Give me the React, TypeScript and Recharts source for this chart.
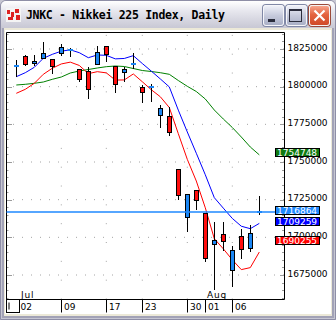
import React from 'react';
import { ComposedChart, Bar, Line, XAxis, YAxis, ReferenceLine } from 'recharts';

const dates = ['07/02','07/03','07/04','07/05','07/06','07/09','07/10','07/11','07/12','07/13','07/17','07/18','07/19','07/20','07/23','07/24','07/25','07/26','07/27','07/30','07/31','08/01','08/02','08/03','08/06','08/07','08/08','08/09'];
const opens = [1813580,1820155,1815509,1818828,1818164,1822146,1823938,1811527,1810399,1815509,1826991,1813717,1809536,1814912,1799580,1799647,1780731,1780532,1745157,1713034,1731219,1716352,1695379,1702215,1678322,1700888,1692725,1716864];
const highs = [1817700,1821018,1821018,1829447,1818164,1828119,1825465,1811527,1812854,1827190,1826991,1813717,1812854,1822146,1801107,1801771,1787833,1786307,1745157,1728564,1731219,1716352,1710379,1710379,1694450,1705335,1708189,1727436];
const lows = [1806220,1813916,1813916,1818828,1808208,1820553,1819889,1802899,1791616,1814845,1816571,1795997,1803297,1811527,1788961,1790023,1772767,1767458,1724781,1703742,1718144,1683831,1665048,1691132,1667239,1685623,1690468,1714826];
const closes = [1813920,1814845,1817036,1822146,1813253,1826128,1824336,1804890,1798253,1823208,1821482,1801571,1811726,1815244,1796262,1799979,1785643,1769714,1727635,1728564,1724317,1686751,1698233,1697769,1691596,1692061,1702680,1716864];
const maHigh = [1806616,1809270,1812854,1818828,1821469,1823553,1824442,1822544,1819226,1821031,1820805,1818456,1818721,1820580,1815363,1810319,1805142,1799832,1784435,1769926,1755816,1741520,1726334,1719379,1712556,1707379,1705746,1709259];
const maLow = [1795598,1798253,1802235,1808208,1812217,1815084,1816279,1814075,1808633,1809961,1809164,1804385,1804465,1808447,1803270,1797961,1793315,1786147,1768798,1751754,1737378,1719591,1699109,1692379,1685079,1678575,1679902,1690255];
const ma25 = [1801107,1801571,1802235,1803098,1804890,1806416,1809071,1810399,1811394,1812390,1813253,1813717,1813385,1812058,1810730,1810067,1809270,1808208,1804093,1800244,1796793,1791815,1784514,1778541,1772900,1766594,1759957,1754748];

const yMajorTicks = [1675000, 1700000, 1725000, 1750000, 1775000, 1800000, 1825000];
const yMinorTicks = Array.from({ length: 36 }, (_, k) => 1660000 + 5000 * k);
const yDomain = [1658743, 1835951];

const dateTicks = ['07/02','07/09','07/17','07/23','07/30','08/01','08/06'];
const dateTickLabels = ['02','09','17','23','30','01','06'];
const monthTicks = ['07/02', '08/01'];
const monthLabels = ['Jul', 'Aug'];
const weekGrid = ['07/09','07/17','07/23','07/30','08/06'];

const lastPrice = 1716864;
const tagValues = [1754748, 1716864, 1709259, 1690255];
const tagColors = ['#0f7a10', '#1e88ff', '#0000ff', '#ff0000'];
const tagNudge = [-2, -1.4, -1.7, -11.5];

const rows = dates.map((d, i) => ({
  d, o: opens[i], h: highs[i], l: lows[i], c: closes[i],
  mh: maHigh[i], ml: maLow[i], m25: ma25[i],
}));

const UP = '#1a86f4';
const DOWN = '#ff0d0d';
const FONT = 'DejaVu Sans';

function Candle(props: any) {
  const { x, y, width, height, payload } = props;
  if (x == null || payload == null) return null;
  const top = Math.min(y, y + height);
  const bot = Math.max(y, y + height);
  const { o, h, l, c } = payload;
  const span = h - l || 1;
  const py = (v: number) => top + ((h - v) / span) * (bot - top);
  const cx = Math.floor(x + width / 2) + 0.5;
  const yo = py(o), yc = py(c);
  const up = c >= o;
  const bt = Math.min(yo, yc), bb = Math.max(yo, yc);
  const fill = up ? UP : DOWN;
  return (
    <g>
      <line x1={cx} x2={cx} y1={Math.round(top)} y2={Math.round(bot)} stroke="#000" strokeWidth={1} />
      {bb - bt < 2 ? (
        <rect x={cx - 2.5} y={Math.round(yc) - 1} width={5} height={2} fill={fill} />
      ) : (
        <rect x={cx - 2} y={Math.round(bt) + 0.5} width={4} height={Math.max(1, Math.round(bb - bt))} fill={fill} stroke="#000" strokeWidth={1} />
      )}
    </g>
  );
}

const PriceTick = ({ x, y, payload }: any) => (
  <text x={x + 3} y={y + 1.6} fontSize={9} fontFamily={FONT} fill="#000">{payload.value}</text>
);

const SideTick = ({ x, y, payload, dir, maj, min }: any) => {
  const major = payload.value % 25000 === 0;
  const len = major ? maj : min;
  const yy = Math.round(y) + 0.5;
  return <line x1={x + dir * 0.5} x2={x + dir * (len + 0.5)} y1={yy} y2={yy} stroke="#9c9c9c" strokeWidth={1} />;
};

const TagTick = ({ x, y, payload }: any) => {
  const k = tagValues.indexOf(payload.value);
  if (k < 0) return null;
  const cy = y + tagNudge[k];
  const ry = Math.round(cy - 4.5) + 0.5;
  return (
    <g>
      <rect x={x + 1} y={ry} width={44} height={8} fill={tagColors[k]} stroke="#000" strokeWidth={1} />
      <text x={x + 2.5} y={ry + 7.6} fontSize={9} fontFamily={FONT} fill="#fff">{payload.value}</text>
    </g>
  );
};

const DateTick = ({ x, y, payload }: any) => {
  const i = dateTicks.indexOf(payload.value);
  if (i < 0) return null;
  const first = i === 0;
  const lx = first ? Math.round(x) + 3.5 : Math.round(x) + 0.5;
  const m = monthTicks.indexOf(payload.value);
  return (
    <g>
      {first && <rect x={lx - 13} y={y} width={13} height={13} fill="#fff" stroke="#000" strokeWidth={1} />}
      {first && <line x1={lx - 10.5} x2={lx - 10.5} y1={y + 3} y2={y + 10} stroke="#000" strokeWidth={1} />}
      {!first && <line x1={lx} x2={lx} y1={y} y2={y + 13} stroke="#000" strokeWidth={1} />}
      <text x={lx + (first ? 1 : 2.5)} y={y + 10} fontSize={9} fontFamily={FONT} fill="#000">{dateTickLabels[i]}</text>
      {m >= 0 && (
        <text x={lx + 1.5} y={y - 2} fontSize={9} fontFamily={FONT} fill="#000" letterSpacing={0.8}>{monthLabels[m]}</text>
      )}
    </g>
  );
};

const Btn = ({ left, kind }: { left: number; kind: string }) => {
  const close = kind === 'close';
  return (
    <div style={{
      position: 'absolute', left, top: 5, width: 21, height: 21, boxSizing: 'border-box',
      borderRadius: 3, border: close ? '1px solid #f4f4f4' : '1px solid #f6f6fa',
      boxShadow: close ? '0 0 0 1px #9a4a3a' : '0 0 0 1px #8088a6',
      background: close
        ? 'linear-gradient(#f6a48c, #e46440 45%, #d04a28)'
        : 'linear-gradient(#eef0f8, #c6cadc 50%, #a9afc6)',
    }}>
      {kind === 'min' && <div style={{ position: 'absolute', left: 4, top: 13, width: 7, height: 3, background: '#2a2c3c' }} />}
      {kind === 'max' && <div style={{ position: 'absolute', left: 2, top: 3, width: 13, height: 13, boxSizing: 'border-box', border: '1px solid #2a2c3c', borderTop: '2px solid #2a2c3c' }} />}
      {close && (
        <svg width={19} height={19} style={{ position: 'absolute', left: 0, top: 0 }}>
          <line x1={4.5} y1={4.5} x2={14.5} y2={14.5} stroke="#fff" strokeWidth={2.2} />
          <line x1={14.5} y1={4.5} x2={4.5} y2={14.5} stroke="#fff" strokeWidth={2.2} />
        </svg>
      )}
    </div>
  );
};

export default function App() {
  return (
    <div style={{ position: 'absolute', left: 0, top: 0, width: 336, height: 320, overflow: 'hidden', background: '#c6c6d2' }}>
      <div style={{ position: 'absolute', left: 0, top: 0, width: 336, height: 320, boxSizing: 'border-box', border: '1px solid #8e8ea6', borderRadius: '6px 6px 0 0' }} />
      <div style={{ position: 'absolute', left: 1, top: 1, width: 334, height: 27, borderRadius: '5px 5px 0 0', background: 'linear-gradient(#ffffff, #e8e8ef 35%, #d6d6e0 70%, #c8c8d4)' }} />
      <div style={{ position: 'absolute', left: 2, top: 28, width: 2, height: 289, background: '#a2a2b6' }} />
      <div style={{ position: 'absolute', left: 332, top: 28, width: 2, height: 289, background: '#a2a2b6' }} />
      <div style={{ position: 'absolute', left: 2, top: 316, width: 332, height: 2, background: '#a2a2b6' }} />
      <div style={{ position: 'absolute', left: 6, top: 8, width: 15, height: 14, background: '#f4f4f4' }}>
        <div style={{ position: 'absolute', left: 1, top: 2, width: 3, height: 4, background: '#d22' }} />
        <div style={{ position: 'absolute', left: 5, top: 4, width: 3, height: 5, background: '#d22' }} />
        <div style={{ position: 'absolute', left: 9, top: 1, width: 4, height: 4, background: '#d22' }} />
        <div style={{ position: 'absolute', left: 10, top: 7, width: 4, height: 5, background: '#d22' }} />
        <div style={{ position: 'absolute', left: 2, top: 9, width: 5, height: 3, background: '#d22' }} />
      </div>
      <div style={{ position: 'absolute', left: 26, top: 6, height: 18, lineHeight: '18px', fontFamily: 'DejaVu Sans Mono', fontWeight: 'bold', fontSize: 11.5, letterSpacing: -0.3, color: '#000', whiteSpace: 'nowrap' }}>
        JNKC - Nikkei 225 Index, Daily
      </div>
      <Btn left={263} kind="min" />
      <Btn left={286} kind="max" />
      <Btn left={309} kind="close" />
      <div style={{ position: 'absolute', left: 4, top: 28, width: 328, height: 288, background: '#ece9d8' }} />
      <div style={{ position: 'absolute', left: 5, top: 30, width: 326, height: 284, background: '#ffffff' }} />
      <div style={{ position: 'absolute', left: 0, top: 0 }}>
        <ComposedChart width={336} height={320} data={rows} margin={{ top: 32.5, right: 0, bottom: 0, left: 6.5 }}>
          <XAxis dataKey="d" type="category" height={20.5} padding={{ left: 5.3, right: 20.7 }} ticks={dateTicks} interval={0}
            tickLine={false} tickSize={0} tickMargin={0} axisLine={{ stroke: '#000', strokeWidth: 1 }} tick={<DateTick />} />
          <XAxis xAxisId="top" dataKey="d" type="category" orientation="top" mirror padding={{ left: 5.3, right: 20.7 }}
            tick={false} tickLine={false} axisLine={{ stroke: '#000', strokeWidth: 1 }} />
          <YAxis orientation="right" width={51.5} domain={yDomain} allowDataOverflow ticks={yMajorTicks} interval={0}
            tickLine={false} tickSize={0} tickMargin={0} axisLine={{ stroke: '#000', strokeWidth: 1 }} tick={<PriceTick />} />
          <YAxis yAxisId="left" orientation="left" mirror width={10} domain={yDomain} allowDataOverflow ticks={yMinorTicks} interval={0}
            tickLine={false} tickSize={0} tickMargin={0} axisLine={{ stroke: '#000', strokeWidth: 1 }} tick={<SideTick dir={1} maj={5} min={1.5} />} />
          <YAxis yAxisId="rside" orientation="right" mirror width={10} domain={yDomain} allowDataOverflow ticks={yMinorTicks} interval={0}
            tickLine={false} tickSize={0} tickMargin={0} axisLine={false} tick={<SideTick dir={-1} maj={4} min={2} />} />
          <YAxis yAxisId="tags" orientation="right" mirror width={10} domain={yDomain} allowDataOverflow ticks={tagValues} interval={0}
            tickLine={false} tickSize={0} tickMargin={0} axisLine={false} tick={<TagTick />} />
          {yMajorTicks.map((v) => (
            <ReferenceLine key={'h' + v} y={v} stroke="#a4a4a4" strokeWidth={1} strokeDasharray="1 8" strokeDashoffset={8.5} zIndex={100} />
          ))}
          {weekGrid.map((d) => (
            <ReferenceLine key={'v' + d} x={d} stroke="#a4a4a4" strokeWidth={1} strokeDasharray="1 17.83" zIndex={100} />
          ))}
          <Line dataKey="m25" stroke="#008000" strokeWidth={1} dot={false} isAnimationActive={false} zIndex={300} />
          <Line dataKey="ml" stroke="#ff0000" strokeWidth={1} dot={false} isAnimationActive={false} zIndex={300} />
          <Line dataKey="mh" stroke="#0000ff" strokeWidth={1} dot={false} isAnimationActive={false} zIndex={300} />
          <Bar dataKey={(r: any) => [r.l, r.h]} barSize={5} shape={Candle} isAnimationActive={false} zIndex={400} />
          <ReferenceLine y={lastPrice} stroke="#1e88ff" strokeWidth={1.6} zIndex={500} />
        </ComposedChart>
      </div>
    </div>
  );
}
